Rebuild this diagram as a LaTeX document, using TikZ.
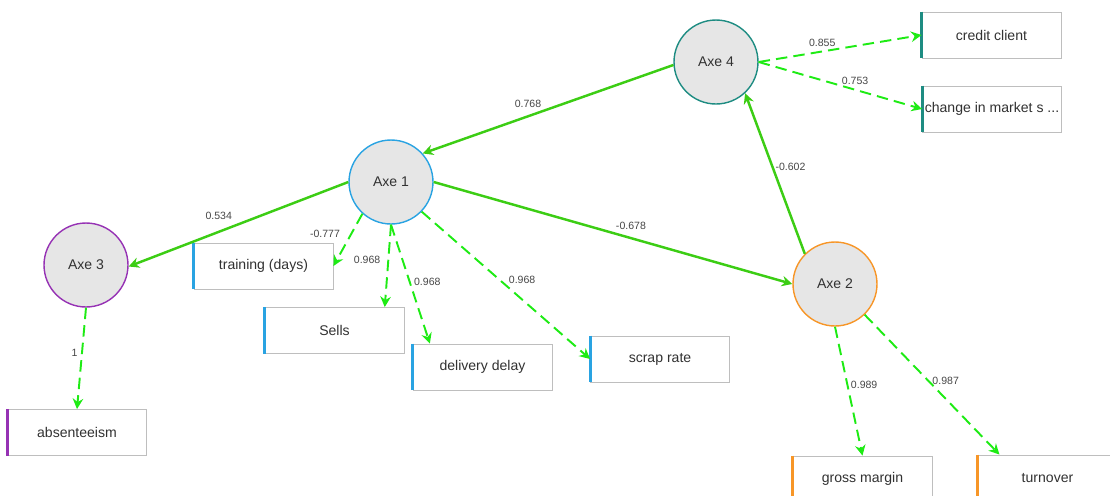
\documentclass[tikz,border=0pt]{standalone}
\usepackage{fontspec}
\setmainfont{Liberation Sans}
\usepackage{xcolor}
\usetikzlibrary{arrows.meta}

\definecolor{axeblue}{RGB}{41,163,226}
\definecolor{axeorange}{RGB}{247,150,40}
\definecolor{axepurple}{RGB}{150,50,180}
\definecolor{axeteal}{RGB}{30,140,130}
\definecolor{axefill}{RGB}{230,230,230}
\definecolor{boxgray}{RGB}{190,190,190}
\definecolor{txtgray}{RGB}{50,50,50}
\definecolor{lblgray}{RGB}{70,70,70}
\definecolor{solidgreen}{RGB}{60,205,20}
\definecolor{dashgreen}{RGB}{30,235,20}

\tikzset{
    axe/.style={circle, draw=#1, line width=0.8pt, fill=axefill, minimum size=1.68cm,
        inner sep=0pt, text=txtgray, font=\fontsize{8}{9}\selectfont},
    ind/.style={rectangle, draw=boxgray, line width=0.5pt, fill=white, minimum width=2.78cm,
        minimum height=0.92cm, inner sep=0pt, text=txtgray, font=\fontsize{8}{9}\selectfont},
    rel/.style={solidgreen, line width=1.4pt, -{Stealth[length=6pt,width=6pt,inset=2pt]}},
    load/.style={dashgreen, line width=1.1pt, dash pattern=on 6.5pt off 3.5pt,
        -{Stealth[length=6pt,width=6pt,inset=2pt]}},
    val/.style={text=lblgray, font=\fontsize{6}{7}\selectfont, inner sep=1pt}
}

\begin{document}
\begin{tikzpicture}[x=0.02cm, y=-0.02cm]
        \useasboundingbox (0, 0) rectangle (1110, 495);
        \clip (0, 0) rectangle (1110, 495);

        % latent variables
        \node[axe=axeteal] (a4) at (716, 62) {Axe 4};
        \node[axe=axeblue] (a1) at (391, 182) {Axe 1};
        \node[axe=axepurple] (a3) at (86, 265) {Axe 3};
        \node[axe=axeorange] (a2) at (835, 284) {Axe 2};

        % indicators
        \node[ind] (cc) at (991.5, 35) {credit client};
        \node[ind] (cm) at (992, 109) {change in market s ...};
        \node[ind] (tr) at (263.5, 266) {training (days)};
        \node[ind] (sells) at (334.5, 330.5) {Sells};
        \node[ind] (dd) at (482.5, 367) {delivery delay};
        \node[ind] (sr) at (660, 359) {scrap rate};
        \node[ind] (abs) at (77, 432.5) {absenteeism};
        \node[ind] (gm) at (862.5, 479) {gross margin};
        \node[ind] (to) at (1047.5, 478) {turnover};

        \foreach \n/\c in {cc/axeteal, cm/axeteal, tr/axeblue, sells/axeblue, dd/axeblue,
                sr/axeblue, abs/axepurple, gm/axeorange, to/axeorange}
            \draw[\c, line width=1.7pt] (\n.north west) -- (\n.south west);

        % structural paths
        \draw[rel] (a4.184) -- node[val, pos=0.58, anchor=south, yshift=3pt] {0.768} (a1.42);
        \draw[rel] (a1.180) -- node[val, pos=0.59, anchor=south, yshift=5pt] {0.534} (a3.-2);
        \draw[rel] (a1.0) -- node[val, pos=0.55, anchor=south, yshift=3pt] {-0.678} (a2.180);
        \draw[rel] (a2.135) -- node[val, pos=0.54, anchor=west] {-0.602} (a4.-47);

        % loadings
        \draw[load] (a4.0) -- node[val, pos=0.39, anchor=south, yshift=1pt] {0.855} (cc.west);
        \draw[load] (a4.0) -- node[val, pos=0.59, anchor=south, yshift=1.5pt] {0.753} (cm.west);
        \draw[load] (a1.228) -- node[val, pos=0.38, anchor=east, xshift=-5pt] {-0.777} (tr.east);
        \draw[load] (a1.south) -- node[val, pos=0.43, anchor=east, xshift=-3pt] {0.968} (sells.25);
        \draw[load] (a1.south) -- node[val, pos=0.48, anchor=west, xshift=1pt] {0.968} (dd.156);
        \draw[load] (a1.-44) -- node[val, pos=0.46, anchor=west, xshift=4pt] {0.968} (sr.west);
        \draw[load] (a3.south) -- node[val, pos=0.45, anchor=east, xshift=-1pt] {1} (abs.north);
        \draw[load] (a2.south) -- node[val, pos=0.45, anchor=west, xshift=0.5pt] {0.989} (gm.north);
        \draw[load] (a2.-46) -- node[val, pos=0.47, anchor=west, xshift=1pt] {0.987} (to.154);
    \end{tikzpicture}
\end{document}
